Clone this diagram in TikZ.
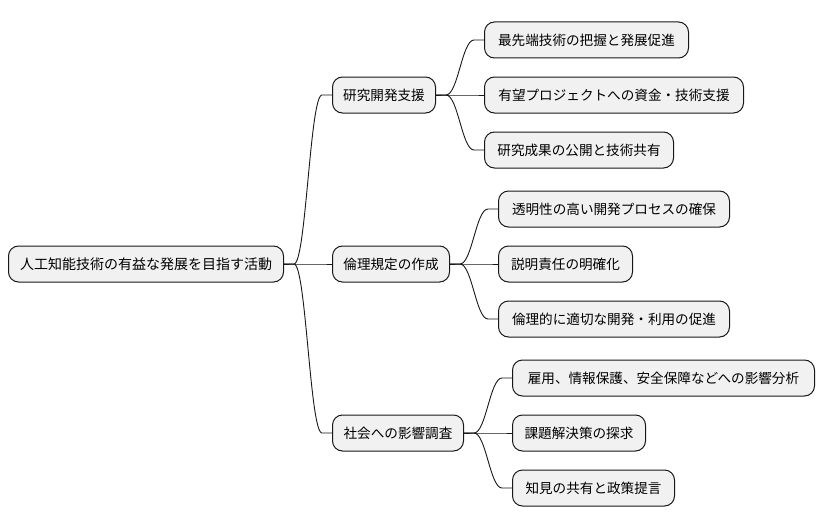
\documentclass[tikz,border=0pt]{standalone}
\usepackage{fontspec}
\newfontfamily\cjk{Noto Sans CJK JP}
\usetikzlibrary{calc}
\definecolor{boxfill}{HTML}{F1F1F1}
\definecolor{boxline}{HTML}{181818}
\tikzset{
  mmbox/.style={draw=boxline, fill=boxfill, line width=1pt, rounded corners=10pt,
    minimum height=36pt, inner sep=0pt, anchor=west, align=center,
    font=\cjk\fontsize{13.6pt}{16pt}\selectfont, text=black},
  rootbox/.style={mmbox, font=\cjk\fontsize{14pt}{17pt}\selectfont},
  link/.style={draw=boxline, line width=0.9pt}
}
\newcommand{\mmlink}[2]{%
  \draw[link] (#1.east) -- ++(10pt,0) .. controls +(12pt,0) and +(-12pt,0) .. ($(#2.west)+(-10pt,0)$) -- (#2.west);}
\begin{document}
\begin{tikzpicture}[x=1pt,y=-1pt]
\useasboundingbox[fill=white] (0,0) rectangle (824,527);
\node[rootbox, minimum width=275pt] (root) at (8,264) {人工知能技術の有益な発展を目指す活動};

\node[mmbox, minimum width=103pt] (a) at (332,95) {研究開発支援};
\node[mmbox, minimum width=117pt] (b) at (332,264) {倫理規定の作成};
\node[mmbox, minimum width=131pt] (c) at (332,433) {社会への影響調査};

\node[mmbox, minimum width=204pt] (a1) at (484,40) {最先端技術の把握と発展促進};
\node[mmbox, minimum width=259pt] (a2) at (484,95) {有望プロジェクトへの資金・技術支援};
\node[mmbox, minimum width=189pt] (a3) at (484,150) {研究成果の公開と技術共有};

\node[mmbox, minimum width=231pt] (b1) at (498,209) {透明性の高い開発プロセスの確保};
\node[mmbox, minimum width=134pt] (b2) at (498,264) {説明責任の明確化};
\node[mmbox, minimum width=231pt] (b3) at (498,319) {倫理的に適切な開発・利用の促進};

\node[mmbox, minimum width=302pt] (c1) at (512,378) {雇用、情報保護、安全保障などへの影響分析};
\node[mmbox, minimum width=133pt] (c2) at (512,433) {課題解決策の探求};
\node[mmbox, minimum width=162pt] (c3) at (512,488) {知見の共有と政策提言};

\mmlink{root}{a}
\mmlink{root}{b}
\mmlink{root}{c}
\mmlink{a}{a1}
\mmlink{a}{a2}
\mmlink{a}{a3}
\mmlink{b}{b1}
\mmlink{b}{b2}
\mmlink{b}{b3}
\mmlink{c}{c1}
\mmlink{c}{c2}
\mmlink{c}{c3}
\end{tikzpicture}
\end{document}
